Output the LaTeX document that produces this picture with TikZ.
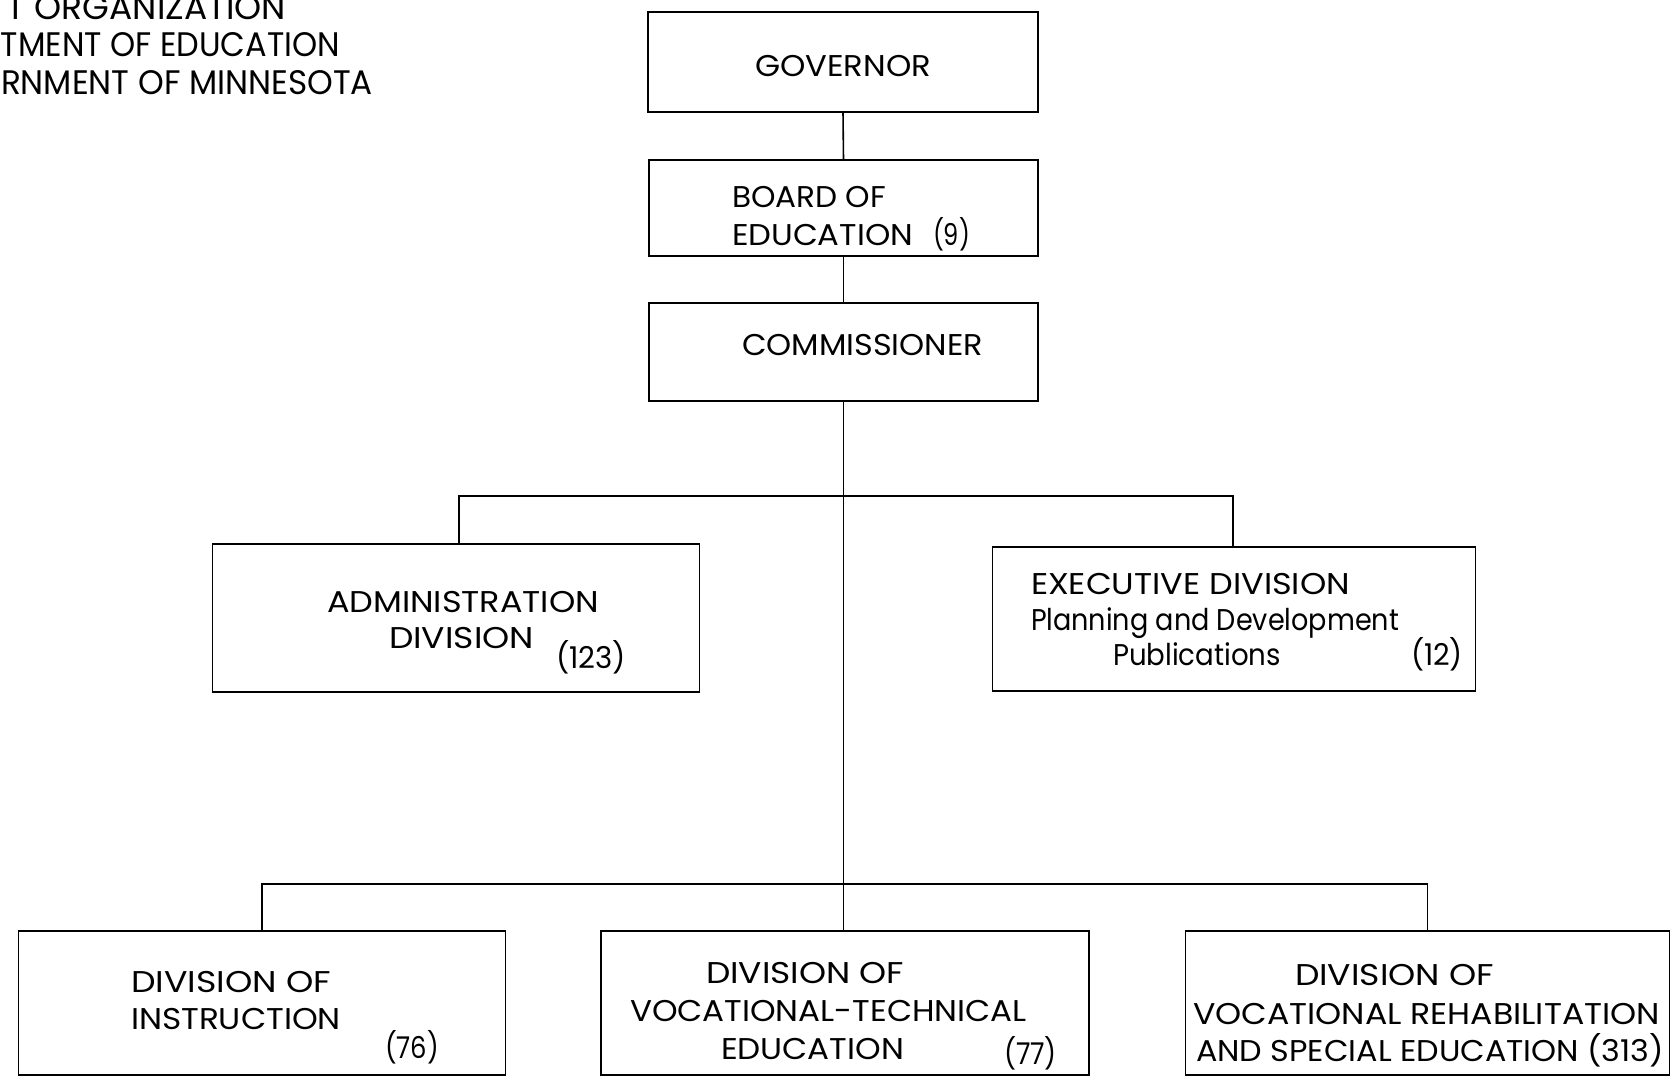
\documentclass[tikz,border=0pt]{standalone}
\usepackage{graphicx}
\usepackage{fontspec}
\setmainfont{Poppins}
% set a line of text to a given width, keeping its height
\newcommand{\fitto}[2]{\resizebox{#1pt}{\height}{#2}}
\begin{document}
\begin{tikzpicture}[x=1pt,y=-1pt,
  box/.style={draw=black, line width=1.8pt, rectangle, inner sep=0pt, outer sep=0pt},
  link/.style={draw=black, line width=1.6pt},
  lbl/.style={anchor=base west, inner sep=0pt, outer sep=0pt, font=\fontsize{30}{30}\selectfont},
  ttl/.style={anchor=base west, inner sep=0pt, outer sep=0pt, font=\fontsize{34}{34}\selectfont}]
\fill[white] (0,0) rectangle (1674,1077);
\useasboundingbox (0,0) rectangle (1674,1077);

% heading, running off the left edge of the sheet
\node[ttl] (t1) at (7,19)  {\fitto{279}{T ORGANIZATION}};
\node[ttl] (t2) at (1,56)  {\fitto{339}{TMENT OF EDUCATION}};
\node[ttl] (t3) at (1,94)  {\fitto{372}{RNMENT OF MINNESOTA}};

% boxes
\node[box, minimum width=390pt, minimum height=100pt] (gov)   at (843,62)    {};
\node[box, minimum width=389pt, minimum height=96pt]  (board) at (843.5,208) {};
\node[box, minimum width=389pt, minimum height=98pt]  (comm)  at (843.5,352) {};
\node[box, minimum width=487pt, minimum height=148pt] (admin) at (456,618)   {};
\node[box, minimum width=483pt, minimum height=144pt] (exec)  at (1234,619)  {};
\node[box, minimum width=487pt, minimum height=144pt] (instr) at (262,1003)  {};
\node[box, minimum width=488pt, minimum height=144pt] (voc)   at (845,1003)  {};
\node[box, minimum width=484pt, minimum height=144pt] (rehab) at (1427.5,1003) {};

% bus junctions
\coordinate (bus1) at (843,496);
\coordinate (bus2) at (843,884);

% connectors
\draw[link] (gov.south) -- (board.north);
\draw[link] (board.south) -- (comm.north);
\draw[link] (comm.south) -- (comm.south |- voc.north);
\draw[link] ([xshift=3pt]admin.north) |- (bus1) -| ([xshift=-1pt]exec.north);
\draw[link] (instr.north) |- (bus2) -| (rehab.north);

% box texts
\node[lbl] (govt)    at (755,76)  {\fitto{176}{GOVERNOR}};
\node[lbl] (boardt1) at (732,207) {\fitto{154}{BOARD OF}};
\node[lbl] (boardt2) at (732,245) {\fitto{181}{EDUCATION}};
\node[lbl] (boardn)  at (933,245) {\fitto{37}{(9)}};
\node[lbl] (commt)   at (742,355) {\fitto{241}{COMMISSIONER}};

\node[lbl] (admint1) at (327,612) {\fitto{272}{ADMINISTRATION}};
\node[lbl] (admint2) at (389,648) {\fitto{145}{DIVISION}};
\node[lbl] (adminn)  at (556,668) {\fitto{70}{(123)}};

\node[lbl] (exect1) at (1031,594) {\fitto{319}{EXECUTIVE DIVISION}};
\node[lbl] (exect2) at (1031,630) {\fitto{368}{Planning and Development}};
\node[lbl] (exect3) at (1113,665) {\fitto{168}{Publications}};
\node[lbl] (execn)  at (1411,665) {\fitto{52}{(12)}};

\node[lbl] (instrt1) at (131,992)  {\fitto{200}{DIVISION OF}};
\node[lbl] (instrt2) at (131,1029) {\fitto{210}{INSTRUCTION}};
\node[lbl] (instrn)  at (385,1058) {\fitto{54}{(76)}};

\node[lbl] (voct1) at (706,983)  {\fitto{198}{DIVISION OF}};
\node[lbl] (voct2) at (630,1021) {\fitto{397}{VOCATIONAL-TECHNICAL}};
\node[lbl] (voct3) at (721,1059) {\fitto{183}{EDUCATION}};
\node[lbl] (vocn)  at (1004,1064) {\fitto{53}{(77)}};

\node[lbl] (rehabt1) at (1295,985)  {\fitto{199}{DIVISION OF}};
\node[lbl] (rehabt2) at (1193,1024) {\fitto{467}{VOCATIONAL REHABILITATION}};
\node[lbl] (rehabt3) at (1196,1061) {\fitto{468}{AND SPECIAL EDUCATION (313)}};
\end{tikzpicture}
\end{document}
